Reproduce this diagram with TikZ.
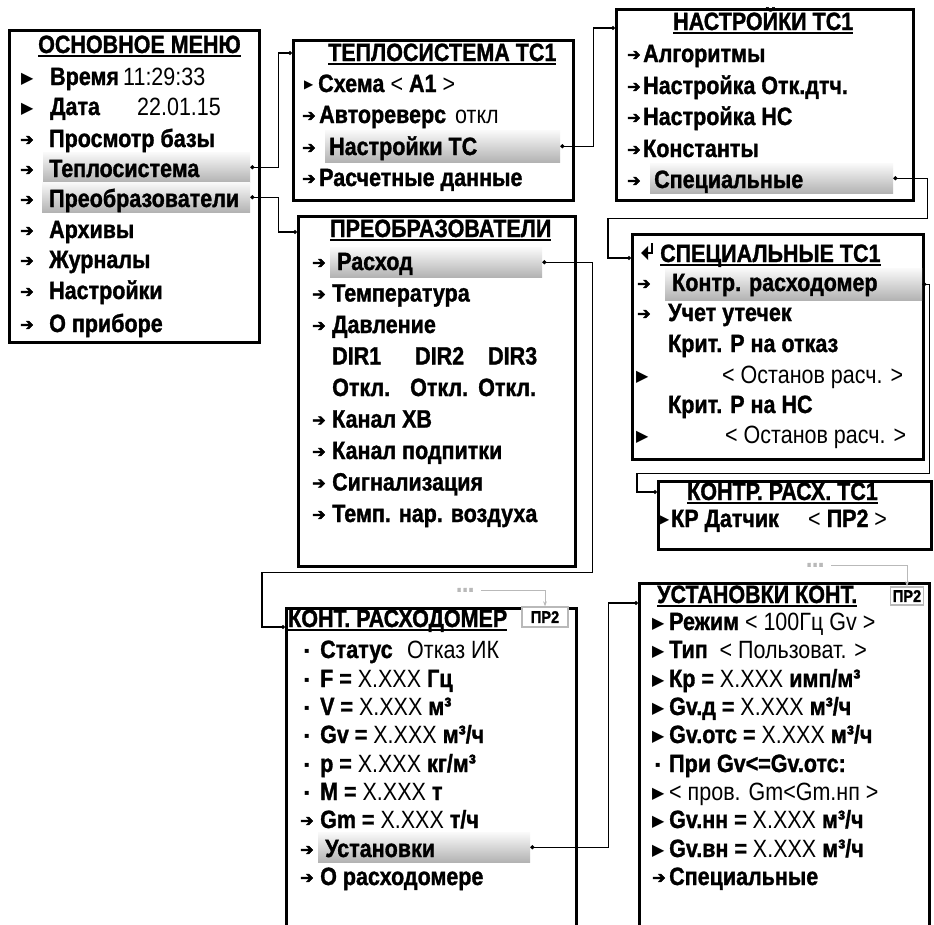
\documentclass[tikz,border=0pt]{standalone}
\usepackage{fontspec}
\setmainfont{Liberation Sans}[FakeStretch=0.86, BoldFeatures={FakeBold=1.2}]
\newfontfamily\symfont{DejaVu Sans}
\newfontfamily\arrfont{DejaVu Sans}[FakeBold=3]
\usetikzlibrary{arrows.meta}

\newsavebox\ttlbox
\newcommand\rg[1]{\textmd{#1}}
\newcommand\arw[1]{\makebox[#1pt][l]{\raisebox{2pt}{\fontsize{16}{16}\arrfont ➔}}}
\newcommand\ptr[1]{\makebox[#1pt][l]{\raisebox{2pt}{\fontsize{16}{16}\symfont\mdseries ▶}}}
\newcommand\ptrs[1]{\makebox[#1pt][l]{\raisebox{3.5pt}{\fontsize{12}{12}\symfont\mdseries ▶}}}
\newcommand\dtb[1]{\makebox[#1pt][l]{\raisebox{5pt}{\fontsize{8}{8}\symfont\mdseries ▪}}}
\newcommand\ttl[1]{\sbox\ttlbox{#1}\rlap{\rule[-4pt]{\wd\ttlbox}{1.8pt}}\usebox\ttlbox}

\tikzset{
  menubox/.style={draw, line width=2.6pt, fill=white, inner sep=0pt, anchor=north west},
  hlbar/.style={inner sep=0pt, anchor=north west, top color=gray!4, bottom color=gray!60},
  row/.style={anchor=base west, inner sep=0pt},
  link/.style={line width=1.1pt, {Circle[length=4pt]}-{Circle[length=4pt]}},
  glink/.style={gray!55, line width=1pt, -{Stealth[length=5pt]}},
  prbox/.style={draw=gray!55, line width=1.4pt, fill=white, inner sep=1pt, font=\fontsize{17}{17}\selectfont\bfseries},
  dots/.style={text=gray!55, inner sep=1pt, text height=3.5pt, text depth=0pt, anchor=west}
}

\begin{document}
\begin{tikzpicture}[x=1pt, y=-1pt, font=\fontsize{25}{30}\selectfont\bfseries]
\useasboundingbox (0,0) rectangle (934,924);
\clip (0,0) rectangle (934,924);

\node[menubox, minimum width=250pt, minimum height=312pt] (mainBox) at (8,29) {};
\node[menubox, minimum width=280pt, minimum height=160pt] (teploBox) at (292,39) {};
\node[menubox, minimum width=297pt, minimum height=191pt] (nastrBox) at (615,8) {};
\node[menubox, minimum width=277pt, minimum height=350pt] (preobBox) at (297,215) {};
\node[menubox, minimum width=291pt, minimum height=225pt] (specBox) at (631,233) {};
\node[menubox, minimum width=273pt, minimum height=68pt] (kontrBox) at (657,480) {};
\node[menubox, minimum width=290pt, minimum height=340pt] (kontBox) at (285,607) {};
\node[menubox, minimum width=290pt, minimum height=360pt] (ustBox) at (638,582) {};

\node[hlbar, minimum width=207pt, minimum height=30pt] (hlTeplo) at (43,152) {};
\node[hlbar, minimum width=208pt, minimum height=30pt] (hlPreob) at (42,182) {};
\node[hlbar, minimum width=235pt, minimum height=32pt] (hlNastr) at (325,130) {};
\node[hlbar, minimum width=243pt, minimum height=30pt] (hlSpec) at (650,163) {};
\node[hlbar, minimum width=212pt, minimum height=30pt] (hlRashod) at (330,247) {};
\node[hlbar, minimum width=257pt, minimum height=32pt] (hlKontr) at (665,268) {};
\node[hlbar, minimum width=212pt, minimum height=30pt] (hlUst) at (318,832) {};

\node[row] (mainTitle) at (38,53) {\ttl{ОСНОВНОЕ МЕНЮ}};
\node[row] (m1) at (21,85) {\ptr{29}\makebox[73pt][l]{Время}\rg{11:29:33}};
\node[row] (m2) at (21,115) {\ptr{29}\makebox[87pt][l]{Дата}\rg{22.01.15}};
\node[row] (m3) at (20,147) {\arw{29}Просмотр базы};
\node[row] (m4) at (20,177) {\arw{29}Теплосистема};
\node[row] (m5) at (20,207) {\arw{29}Преобразователи};
\node[row] (m6) at (20,238) {\arw{29}Архивы};
\node[row] (m7) at (20,268) {\arw{29}Журналы};
\node[row] (m8) at (20,299) {\arw{29}Настройки};
\node[row] (m9) at (20,332) {\arw{29}О приборе};

\node[row] (teploTitle) at (328,61) {\ttl{ТЕПЛОСИСТЕМА ТС1}};
\node[row] (t1) at (304,92) {\ptrs{14}Схема \rg{<} A1 \rg{>}};
\node[row] (t2) at (302,123) {\arw{17}\makebox[136pt][l]{Автореверс}\rg{откл}};
\node[row] (t3) at (302,155) {\arw{27}Настройки ТС};
\node[row] (t4) at (302,186) {\arw{17}Расчетные данные};

\node[row] (nastrTitle) at (673,30) {\ttl{НАСТРОЙКИ ТС1}};
\node[row] (n1) at (627,62) {\arw{16}Алгоритмы};
\node[row] (n2) at (627,94) {\arw{16}Настройка Отк.дтч.};
\node[row] (n3) at (627,125) {\arw{16}Настройка НС};
\node[row] (n4) at (627,157) {\arw{16}Константы};
\node[row] (n5) at (627,188) {\arw{27}Специальные};

\node[row] (preobTitle) at (330,237) {\ttl{ПРЕОБРАЗОВАТЕЛИ}};
\node[row] (p1) at (312,270) {\arw{25}Расход};
\node[row] (p2) at (312,301.5) {\arw{20}Температура};
\node[row] (p3) at (312,333) {\arw{20}Давление};
\node[row] (p4) at (332,364.5) {\makebox[83pt][l]{DIR1}\makebox[73pt][l]{DIR2}DIR3};
\node[row] (p5) at (332,396) {\makebox[78pt][l]{Откл.}\makebox[68pt][l]{Откл.}Откл.};
\node[row] (p6) at (312,427.5) {\arw{20}Канал ХВ};
\node[row] (p7) at (312,459) {\arw{20}Канал подпитки};
\node[row] (p8) at (312,490.5) {\arw{20}Сигнализация};
\node[row] (p9) at (312,522) {\arw{20}Темп. нар. воздуха};

\fill (641,253) -- (648,246) -- (648,260) -- cycle;
\draw[line width=2.4pt] (647,253) -- (652,253) -- (652,243);
\node[row] (specTitle) at (660,262) {\ttl{СПЕЦИАЛЬНЫЕ ТС1}};
\node[row] (s1) at (637,291) {\arw{35}Контр. расходомер};
\node[row] (s2) at (637,321) {\arw{31}Учет утечек};
\node[row] (s3) at (668,352) {Крит. Р на отказ};
\node[row] (s4) at (636,383) {\ptr{86}\rg{< Останов расч. >}};
\node[row] (s5) at (668,413) {Крит. Р на НС};
\node[row] (s6) at (636,443) {\ptr{89}\rg{< Останов расч. >}};

\node[row] (kontrTitle) at (687,500) {\ttl{КОНТР. РАСХ. ТС1}};
\node[row] (k1) at (660,527) {\ptrs{11}\makebox[137pt][l]{КР Датчик}\rg{<} ПР2 \rg{>}};

\node[row] (kontTitle) at (288,627) {\ttl{КОНТ. РАСХОДОМЕР}};
\node[row] (r1) at (304,658) {\dtb{16}\makebox[87pt][l]{Статус}\rg{Отказ ИК}};
\node[row] (r2) at (304,687) {\dtb{16}F = \rg{X.XXX} Гц};
\node[row] (r3) at (304,715) {\dtb{16}V = \rg{X.XXX} м³};
\node[row] (r4) at (304,743) {\dtb{16}Gv = \rg{X.XXX} м³/ч};
\node[row] (r5) at (304,772) {\dtb{16}p = \rg{X.XXX} кг/м³};
\node[row] (r6) at (304,800) {\dtb{16}M = \rg{X.XXX} т};
\node[row] (r7) at (300,828) {\arw{20}Gm = \rg{X.XXX} т/ч};
\node[row] (r8) at (300,857) {\arw{25}Установки};
\node[row] (r9) at (300,885) {\arw{20}О расходомере};

\node[row] (ustTitle) at (657,603) {\ttl{УСТАНОВКИ КОНТ.}};
\node[row] (u1) at (652,630) {\ptr{17}Режим \rg{< 100Гц Gv >}};
\node[row] (u2) at (652,658) {\ptr{17}Тип\ \ \rg{< Пользоват. >}};
\node[row] (u3) at (652,687) {\ptr{17}Кр = \rg{X.XXX} имп/м³};
\node[row] (u4) at (652,715) {\ptr{17}Gv.д = \rg{X.XXX} м³/ч};
\node[row] (u5) at (652,743) {\ptr{17}Gv.отс = \rg{X.XXX} м³/ч};
\node[row] (u6) at (655,772) {\dtb{14}При Gv<=Gv.отс:};
\node[row] (u7) at (652,800) {\ptr{17}\rg{< пров. Gm<Gm.нп >}};
\node[row] (u8) at (652,828) {\ptr{17}Gv.нн = \rg{X.XXX} м³/ч};
\node[row] (u9) at (652,857) {\ptr{17}Gv.вн = \rg{X.XXX} м³/ч};
\node[row] (u10) at (652,885) {\arw{17}Специальные};

\node[dots] (dotsK) at (455,590) {...};
\node[prbox, minimum width=46pt, minimum height=20pt] (prK) at (545,617) {ПР2};
\draw[glink] ([xshift=6pt]dotsK.east) -| (prK.north);
\node[dots] (dotsU) at (805,565) {...};
\node[prbox, minimum width=33pt, minimum height=18pt] (prU) at (907,596) {ПР2};
\draw[glink] ([xshift=6pt]dotsU.east) -| (prU.north);

\draw[link] (hlTeplo.east) -- ++(28,0) |- ([yshift=-14pt]teploBox.north west);
\draw[link] (hlPreob.east) -- ++(28,0) |- ([yshift=-17pt]preobBox.north west);
\draw[link] (hlNastr.east) -- ++(33,0) |- ([yshift=-20pt]nastrBox.north west);
\draw[link] (hlSpec.east) -- ++(34,0) -- ++(0,40) -| ([xshift=-23pt,yshift=-25pt]specBox.north west) -- ([yshift=-25pt]specBox.north west);
\draw[link] (hlKontr.east) -- ++(7,0) -- ++(0,189) -| ([xshift=-20pt,yshift=-12pt]kontrBox.north west) -- ([yshift=-12pt]kontrBox.north west);
\draw[link] (hlRashod.east) -- ++(50,0) -- ++(0,310) -| ([xshift=-23pt,yshift=-20pt]kontBox.north west) -- ([yshift=-20pt]kontBox.north west);
\draw[link] (hlUst.east) -- ++(78,0) |- ([yshift=-21pt]ustBox.north west);
\end{tikzpicture}
\end{document}
